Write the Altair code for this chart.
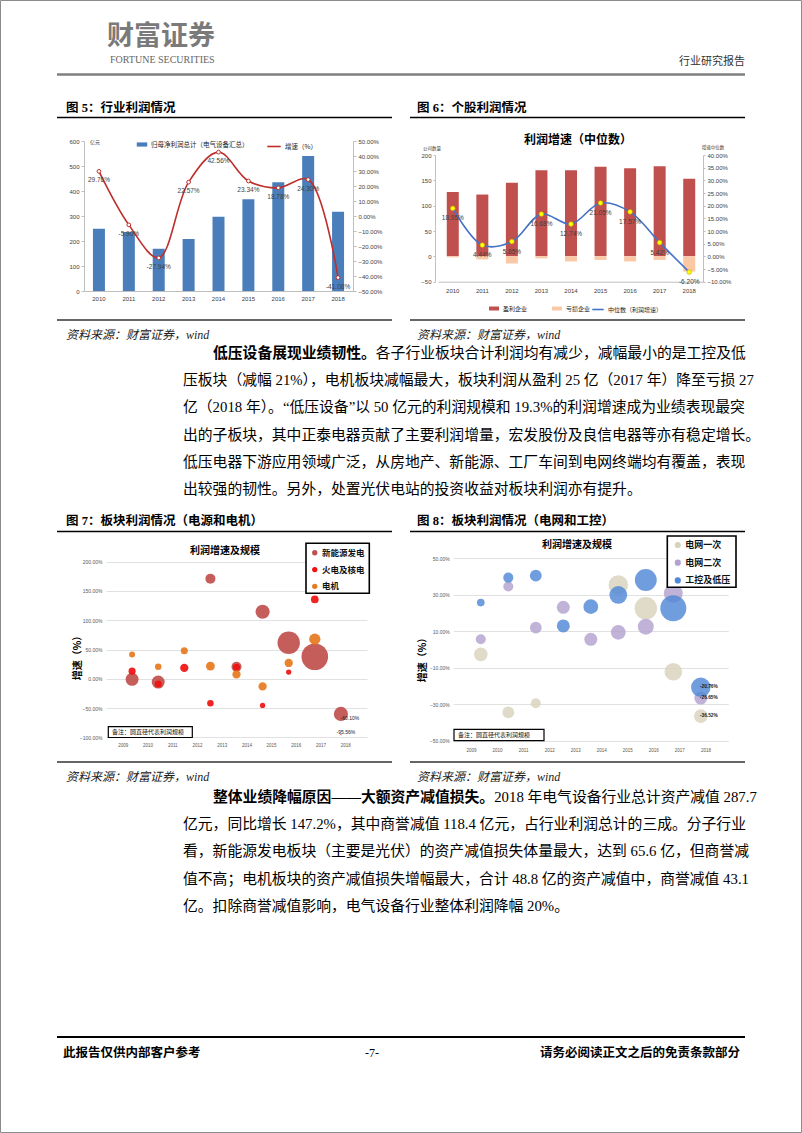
import altair as alt
import pandas as pd

W, H = 802, 1133
CJK = "Noto Sans CJK SC"
SERIF = "Liberation Serif, Noto Sans CJK SC"
SANS = "Liberation Sans, Noto Sans CJK SC"

# ---------------- data ----------------
years = ["2010", "2011", "2012", "2013", "2014", "2015", "2016", "2017", "2018"]

# Fig 5: industry profit
profit_total = [249, 236, 169, 208, 297, 367, 435, 540, 317]
profit_growth = [29.76, -5.90, -27.94, 22.57, 42.56, 23.34, 18.78, 24.30, -41.08]

# Fig 6: company counts and median growth
profitable_cnt = [127, 122, 145, 170, 170, 177, 174, 178, 153]
loss_cnt = [-2, -6, -14, -4, -10, -7, -10, -7, -30]
median_growth = [18.95, 4.44, 5.85, 16.68, 12.74, 21.05, 17.57, 5.42, -6.20]

# Fig 7: bubbles (power source & motor)
s7_names = ["新能源发电", "火电及核电", "电机"]
s7_new_year = [2010, 2011, 2013, 2014, 2015, 2016, 2017, 2018]
s7_new_growth = [-1.0, -5.7, 171.0, 20.5, 114.5, 61.5, 37.6, -60.10]
s7_new_size = [484, 484, 289, 289, 576, 1444, 2025, 576]
s7_th_year = [2010, 2011, 2012, 2013, 2014, 2015, 2016, 2017, 2018]
s7_th_growth = [13.0, -9.0, 18.5, -42.0, 19.5, -45.5, 11.4, 135.5, -95.56]
s7_th_size = [144, 144, 196, 121, 144, 81, 81, 169, 4]
s7_mo_year = [2010, 2011, 2012, 2013, 2014, 2015, 2016, 2017]
s7_mo_growth = [41.5, 20.5, 48.0, 21.6, 7.4, -13.0, 27.0, 67.7]
s7_mo_size = [100, 121, 144, 225, 196, 196, 196, 361]

# Fig 8: bubbles (grid & control)
s8_names = ["电网一次", "电网二次", "工控及低压"]
s8_p1_year = [2010, 2011, 2012, 2015, 2016, 2017, 2018]
s8_p1_growth = [-2.65, -34.5, -29.5, 35.4, 22.6, -12.2, -36.52]
s8_p1_size = [529, 400, 289, 1089, 1444, 900, 529]
s8_p2_year = [2010, 2011, 2012, 2013, 2014, 2015, 2016, 2017, 2018]
s8_p2_growth = [5.6, 34.5, 12.0, 23.1, 5.6, 9.4, 12.5, 30.8, -26.65]
s8_p2_size = [289, 289, 400, 484, 484, 625, 729, 1024, 484]
s8_ic_year = [2010, 2011, 2012, 2013, 2014, 2015, 2016, 2017, 2018]
s8_ic_growth = [25.7, 39.4, 40.5, 12.9, 23.5, 29.9, 38.1, 22.6, -20.76]
s8_ic_size = [169, 289, 400, 484, 625, 900, 1369, 1936, 1089]

bubble_axis_years = [2009, 2010, 2011, 2012, 2013, 2014, 2015, 2016, 2017, 2018]

para1_head = "低压设备展现业绩韧性。"
para1_lines = [
    "各子行业板块合计利润均有减少，减幅最小的是工控及低",
    "压板块（减幅 21%），电机板块减幅最大，板块利润从盈利 25 亿（2017 年）降至亏损 27",
    "亿（2018 年）。“低压设备”以 50 亿元的利润规模和 19.3%的利润增速成为业绩表现最突",
    "出的子板块，其中正泰电器贡献了主要利润增量，宏发股份及良信电器等亦有稳定增长。",
    "低压电器下游应用领域广泛，从房地产、新能源、工厂车间到电网终端均有覆盖，表现",
    "出较强的韧性。另外，处置光伏电站的投资收益对板块利润亦有提升。",
]
para2_head = "整体业绩降幅原因——大额资产减值损失。"
para2_lines = [
    "2018 年电气设备行业总计资产减值 287.7",
    "亿元，同比增长 147.2%，其中商誉减值 118.4 亿元，占行业利润总计的三成。分子行业",
    "看，新能源发电板块（主要是光伏）的资产减值损失体量最大，达到 65.6 亿，但商誉减",
    "值不高；电机板块的资产减值损失增幅最大，合计 48.8 亿的资产减值中，商誉减值 43.1",
    "亿。扣除商誉减值影响，电气设备行业整体利润降幅 20%。",
]

# ---------------- helpers for page decoration ----------------
ONE = alt.Data(values=[{"k": 1}])


def txt(s, x, y, size=12, weight="normal", align="left", color="#000000",
        font=SERIF, style="normal"):
    return alt.Chart(ONE).mark_text(
        text=s, fontSize=size, fontWeight=weight, align=align, color=color,
        font=font, fontStyle=style, baseline="middle"
    ).encode(x=alt.value(x), y=alt.value(y))


def hline(x1, x2, y, color="#000000", w=1.0):
    return alt.Chart(ONE).mark_rule(color=color, strokeWidth=w).encode(
        x=alt.value(x1), x2=alt.value(x2), y=alt.value(y))


def box(x1, y1, x2, y2, stroke="#000000", w=1.0, fill="#ffffff", fill_opacity=1.0):
    return alt.Chart(ONE).mark_rect(stroke=stroke, strokeWidth=w, fill=fill,
                                    fillOpacity=fill_opacity).encode(
        x=alt.value(x1), x2=alt.value(x2), y=alt.value(y1), y2=alt.value(y2))


def pct_expr():
    return "format(datum.value, '.2f') + '%'"


# ---------------- Fig 5 ----------------
BAR5 = "归母净利润总计（电气设备汇总）"
LINE5 = "增速（%）"
df5 = pd.DataFrame({"year": years, "profit": profit_total, "growth": profit_growth})
df5["label"] = [f"{v:.2f}%" for v in profit_growth]
df5["bar_s"] = BAR5
df5["line_s"] = LINE5

x5 = alt.X("year:O", title=None,
           scale=alt.Scale(range=[84, 353], paddingInner=0, paddingOuter=0),
           axis=alt.Axis(orient="bottom", offset=291 - H, labelAngle=0, labelFontSize=6,
                         ticks=False, labelPadding=4, domainColor="#bfbfbf",
                         labelColor="#404040", labelFont=SANS, grid=False))
y5l = alt.Y("profit:Q", title=None,
            scale=alt.Scale(domain=[0, 600], range=[291, 141], nice=False, zero=False),
            axis=alt.Axis(orient="left", offset=-84, values=[0, 100, 200, 300, 400, 500, 600],
                          labelFontSize=6, tickSize=3, tickColor="#bfbfbf", domainColor="#bfbfbf",
                          labelPadding=2, grid=False, labelColor="#404040", labelFont=SANS))
y5r = alt.Y("growth:Q", title=None,
            scale=alt.Scale(domain=[-50, 50], range=[291, 141], nice=False, zero=False),
            axis=alt.Axis(orient="right", offset=353 - W, values=list(range(-50, 51, 10)),
                          labelExpr=pct_expr(), labelFontSize=6, tickSize=3, tickColor="#bfbfbf",
                          domainColor="#bfbfbf", labelPadding=2, grid=False,
                          labelColor="#404040", labelFont=SANS))

bars5 = alt.Chart(df5).mark_bar(size=12).encode(
    x=x5, y=y5l,
    color=alt.Color("bar_s:N", scale=alt.Scale(domain=[BAR5], range=["#4A7EBB"]),
                    legend=alt.Legend(orient="none", legendX=136, legendY=138.5, title=None,
                                      symbolType="M-1,-0.4H1V0.4H-1Z", symbolSize=110,
                                      labelFontSize=6.5, labelFont=CJK, labelColor="#222222",
                                      labelOffset=3, padding=0)))
line5 = alt.Chart(df5).mark_line(interpolate="catmull-rom", strokeWidth=1.6).encode(
    x=x5, y=y5r,
    stroke=alt.Stroke("line_s:N", scale=alt.Scale(domain=[LINE5], range=["#BE2E2B"]),
                      legend=alt.Legend(orient="none", legendX=266, legendY=138.5, title=None,
                                        symbolType="stroke", symbolSize=180, symbolStrokeWidth=1.6,
                                        labelFontSize=6.5, labelFont=CJK, labelColor="#222222",
                                        labelOffset=3, padding=0)))
pts5 = alt.Chart(df5).mark_point(shape="circle", filled=True, fill="white", stroke="#BE2E2B",
                                 strokeWidth=1, size=14, opacity=1).encode(x=x5, y=y5r)
lbl5 = alt.Chart(df5).mark_text(dy=9, fontSize=6.5, color="#404040", font=SANS).encode(
    x=x5, y=y5r, text="label:N")
fig5 = alt.layer(bars5, alt.layer(line5, pts5, lbl5)).resolve_scale(y="independent")

# ---------------- Fig 6 ----------------
T_GAIN, T_LOSS = "盈利企业", "亏损企业"
LINE6 = "中位数（利润增速）"
df6b = pd.DataFrame({
    "year": years + years,
    "type": [T_GAIN] * len(years) + [T_LOSS] * len(years),
    "count": profitable_cnt + loss_cnt,
})
df6l = pd.DataFrame({"year": years, "median": median_growth,
                     "label": [f"{v:.2f}%" for v in median_growth], "line_s": LINE6})

x6 = alt.X("year:O", title=None,
           scale=alt.Scale(range=[438, 704], paddingInner=0, paddingOuter=0),
           axis=alt.Axis(orient="bottom", offset=281.7 - H, labelAngle=0, labelFontSize=6,
                         ticks=False, labelPadding=6, domainColor="#bfbfbf",
                         labelColor="#404040", labelFont=SANS, grid=False))
y6l = alt.Y("count:Q", title=None, stack=None,
            scale=alt.Scale(domain=[-50, 200], range=[281.7, 155], nice=False, zero=False),
            axis=alt.Axis(orient="left", offset=-435, values=[-50, 0, 50, 100, 150, 200],
                          labelFontSize=6, tickSize=2, tickColor="#bfbfbf", domainColor="#bfbfbf",
                          labelPadding=2, grid=False, labelColor="#404040", labelFont=SANS))
y6r = alt.Y("median:Q", title=None,
            scale=alt.Scale(domain=[-10, 40], range=[281.7, 155], nice=False, zero=False),
            axis=alt.Axis(orient="right", offset=703 - W, values=list(range(-10, 41, 5)),
                          labelExpr=pct_expr(), labelFontSize=6, tickSize=2, tickColor="#bfbfbf",
                          domainColor="#bfbfbf", labelPadding=2, grid=False,
                          labelColor="#404040", labelFont=SANS))
bars6 = alt.Chart(df6b).mark_bar(size=12).encode(
    x=x6, y=y6l,
    color=alt.Color("type:N", scale=alt.Scale(domain=[T_GAIN, T_LOSS], range=["#C0504D", "#FAC8A5"]),
                    legend=alt.Legend(orient="none", direction="horizontal", legendX=488, legendY=302.5,
                                      title=None, symbolType="M-1,-0.4H1V0.4H-1Z", symbolSize=100,
                                      labelFontSize=6, labelFont=CJK, labelColor="#222222",
                                      labelOffset=3, columnPadding=23, padding=0)))
line6 = alt.Chart(df6l).mark_line(interpolate="catmull-rom", strokeWidth=1.6).encode(
    x=x6, y=y6r,
    stroke=alt.Stroke("line_s:N", scale=alt.Scale(domain=[LINE6], range=["#4472C4"]),
                      legend=alt.Legend(orient="none", legendX=591, legendY=302.5, title=None,
                                        symbolType="stroke", symbolSize=130, symbolStrokeWidth=1.6,
                                        labelFontSize=6, labelFont=CJK, labelColor="#222222",
                                        labelOffset=3, padding=0)))
pts6 = alt.Chart(df6l).mark_point(shape="circle", filled=True, fill="#FFFF00", stroke="#C8A800",
                                  strokeWidth=0.6, size=22, opacity=1).encode(x=x6, y=y6r)
lbl6 = alt.Chart(df6l).mark_text(dy=10, fontSize=6.5, color="#404040", font=SANS).encode(
    x=x6, y=y6r, text="label:N")
fig6 = alt.layer(bars6, alt.layer(line6, pts6, lbl6)).resolve_scale(y="independent")


# ---------------- bubble helpers ----------------
def bubble_df(names, yrs, grs, szs):
    rows = []
    for n, ys, gs, ss in zip(names, yrs, grs, szs):
        for y_, g_, s_ in zip(ys, gs, ss):
            rows.append({"series": n, "year": y_, "growth": g_, "scale": s_})
    return pd.DataFrame(rows)


def bubble_chart(df, names, colors, opacity, xr, yd, yr, yvals, axis_x, title_x, title_y,
                 leg_x, leg_y, row_pad, sym_size, leg_font):
    xs = alt.X("year:Q", axis=None,
               scale=alt.Scale(domain=[2009, 2019], range=xr, nice=False, zero=False))
    ys = alt.Y("growth:Q", title="增速（%）",
               scale=alt.Scale(domain=yd, range=yr, nice=False, zero=False),
               axis=alt.Axis(orient="left", offset=-axis_x, values=yvals, labelExpr=pct_expr(),
                             labelFontSize=5, labelFont=SANS, labelColor="#595959",
                             domain=False, ticks=False, labelPadding=4, grid=True,
                             gridColor="#d9d9d9", gridWidth=0.8,
                             titleFont=CJK, titleFontSize=10, titleFontWeight="bold",
                             titleColor="#000000", titleX=title_x - axis_x, titleY=title_y,
                             titleAngle=270, titleAlign="center", titleBaseline="middle"))
    return alt.Chart(df).mark_circle(opacity=opacity).encode(
        x=xs, y=ys,
        size=alt.Size("scale:Q", scale=alt.Scale(domain=[0, 2025], range=[0, 707]), legend=None),
        color=alt.Color("series:N", scale=alt.Scale(domain=names, range=colors),
                        legend=alt.Legend(orient="none", legendX=leg_x, legendY=leg_y, title=None,
                                          symbolType="circle", symbolSize=sym_size,
                                          symbolOpacity=1, labelFontSize=leg_font, labelFont=CJK,
                                          labelFontWeight="bold", labelColor="#111111",
                                          labelOffset=3, rowPadding=row_pad, padding=0)),
    ), xs, ys


# ---------------- Fig 7 ----------------
df7 = bubble_df(s7_names, [s7_new_year, s7_th_year, s7_mo_year],
                [s7_new_growth, s7_th_growth, s7_mo_growth],
                [s7_new_size, s7_th_size, s7_mo_size])
bub7, xs7, ys7 = bubble_chart(df7, s7_names, ["#C0504D", "#F01010", "#E67A1E"], 0.92,
                              [106, 367], [-100, 200], [737.3, 561.7],
                              [-100, -50, 0, 50, 100, 150, 200], 106, 77, 655,
                              310.5, 548.5, 7.8, 28, 8.5)
lab7a = alt.Chart(pd.DataFrame({"year": [2018], "growth": [-60.10], "label": ["-60.10%"]})).mark_text(
    dx=9, dy=4, fontSize=5, color="#222222", font=SANS).encode(x=xs7, y=ys7, text="label:N")
lab7b = alt.Chart(pd.DataFrame({"year": [2018], "growth": [-95.56], "label": ["-95.56%"]})).mark_text(
    dx=5, dy=-3, fontSize=5, color="#222222", font=SANS).encode(x=xs7, y=ys7, text="label:N")
yr7 = alt.Chart(pd.DataFrame({"yr": bubble_axis_years})).mark_text(
    fontSize=4.5, color="#595959", font=SANS).encode(
    x=alt.X("yr:Q", axis=None,
            scale=alt.Scale(domain=[2008.3, 2018.86], range=[106, 367], nice=False, zero=False)),
    y=alt.value(746), text=alt.Text("yr:Q", format="d"))
fig7 = alt.layer(alt.layer(bub7, lab7a, lab7b), yr7).resolve_scale(x="independent")

# ---------------- Fig 8 ----------------
df8 = bubble_df(s8_names, [s8_p1_year, s8_p2_year, s8_ic_year],
                [s8_p1_growth, s8_p2_growth, s8_ic_growth],
                [s8_p1_size, s8_p2_size, s8_ic_size])
bub8, xs8, ys8 = bubble_chart(df8, s8_names, ["#D8D3BC", "#B3A2CF", "#4F88D6"], 0.82,
                              [453.3, 728.3], [-50, 50], [740.7, 558.3],
                              [-50, -30, -10, 10, 30, 50], 453.3, 422, 657,
                              673.3, 540.5, 7.7, 38, 9)
df8lab = pd.DataFrame({"year": [2018, 2018, 2018], "growth": [-20.76, -26.65, -36.52],
                       "label": ["-20.76%", "-26.65%", "-36.52%"]})
lab8 = alt.Chart(df8lab).mark_text(dx=8, fontSize=4.8, fontWeight="bold", color="#1a1a1a",
                                   font=SANS).encode(x=xs8, y=ys8, text="label:N")
yr8 = alt.Chart(pd.DataFrame({"yr": bubble_axis_years})).mark_text(
    fontSize=4.5, color="#595959", font=SANS).encode(
    x=alt.X("yr:Q", axis=None,
            scale=alt.Scale(domain=[2008.3, 2018.86], range=[453.3, 728.3], nice=False, zero=False)),
    y=alt.value(751), text=alt.Text("yr:Q", format="d"))
fig8 = alt.layer(alt.layer(bub8, lab8), yr8).resolve_scale(x="independent")

# ---------------- page decoration ----------------
deco = [
    box(0.5, 0.5, 801.5, 1132.5, stroke="#8c8c8c", w=1, fill="#ffffff", fill_opacity=0),
    txt("财富证券", 107, 37, size=27, weight="bold", color="#7a7a7a", font=CJK),
    txt("FORTUNE SECURITIES", 110, 60, size=10, color="#666666", font="Liberation Serif"),
    txt("行业研究报告", 745, 62, size=11, align="right", color="#333333", font=CJK),
    hline(57, 745, 74.5, "#7f7f7f", 2.5),
    txt("图 5：行业利润情况", 66, 108, size=12.5, weight="bold"),
    txt("图 6：个股利润情况", 417, 108, size=12.5, weight="bold"),
    hline(57, 392, 117.5, "#000000", 1.5),
    hline(410, 745, 117.5, "#000000", 1.5),
    hline(57, 392, 320, "#333333", 1.3),
    hline(410, 745, 320, "#333333", 1.3),
    txt("资料来源：财富证券，wind", 66, 335, size=12, style="italic", color="#222222"),
    txt("资料来源：财富证券，wind", 417, 335, size=12, style="italic", color="#222222"),
    txt("图 7：板块利润情况（电源和电机）", 66, 521, size=12.5, weight="bold"),
    txt("图 8：板块利润情况（电网和工控）", 417, 521, size=12.5, weight="bold"),
    hline(57, 392, 531.5, "#000000", 1.5),
    hline(410, 745, 531.5, "#000000", 1.5),
    hline(57, 392, 762, "#333333", 1.3),
    hline(410, 745, 762, "#333333", 1.3),
    txt("资料来源：财富证券，wind", 66, 777, size=12, style="italic", color="#222222"),
    txt("资料来源：财富证券，wind", 417, 777, size=12, style="italic", color="#222222"),
    hline(57, 745, 1037, "#000000", 2),
    txt("此报告仅供内部客户参考", 63, 1053, size=12.5, weight="bold"),
    txt("-7-", 372, 1053, size=12, align="center", font="Liberation Serif"),
    txt("请务必阅读正文之后的免责条款部分", 740, 1053, size=12.5, weight="bold", align="right"),
    # chart inner titles / small labels
    txt("亿元", 90, 142, size=5, font=CJK, color="#404040"),
    txt("利润增速（中位数）", 578, 140, size=12, weight="bold", align="center", font=CJK),
    txt("公司数量", 432, 149, size=4.5, align="center", font=CJK, color="#404040"),
    txt("增速中位数", 713, 148, size=4.5, align="center", font=CJK, color="#404040"),
    txt("利润增速及规模", 225, 551, size=10, weight="bold", align="center", font=CJK),
    txt("利润增速及规模", 577, 545, size=10, weight="bold", align="center", font=CJK),
]

# paragraphs
P_SIZE = 14.8
P1_Y0, P2_Y0, P_STEP = 354, 798, 27.2
X_IND, X_BODY = 213, 183
deco.append(txt(para1_head, X_IND, P1_Y0, size=P_SIZE, weight="bold"))
deco.append(txt(para1_lines[0], X_IND + len(para1_head) * P_SIZE, P1_Y0, size=P_SIZE))
for i, line in enumerate(para1_lines[1:], start=1):
    deco.append(txt(line, X_BODY, P1_Y0 + i * P_STEP, size=P_SIZE))
deco.append(txt(para2_head, X_IND, P2_Y0, size=P_SIZE, weight="bold"))
deco.append(txt(para2_lines[0], X_IND + len(para2_head) * P_SIZE, P2_Y0, size=P_SIZE))
for i, line in enumerate(para2_lines[1:], start=1):
    deco.append(txt(line, X_BODY, P2_Y0 + i * P_STEP, size=P_SIZE))

# boxes drawn over the bubble charts
overlay = [
    box(306, 543.3, 369.3, 593.3, stroke="#000000", w=1.6),
    box(667.3, 536, 736, 587.3, stroke="#000000", w=1.6),
    box(108.3, 726.7, 192.3, 737.5, stroke="#000000", w=1.2),
    txt("备注：圆直径代表利润规模", 112, 732.2, size=6, font=CJK, color="#111111"),
    box(454, 729.3, 544, 740.7, stroke="#000000", w=1.2),
    txt("备注：圆直径代表利润规模", 458, 735, size=6, font=CJK, color="#111111"),
]

chart = alt.layer(*deco, fig5, fig6, fig7, fig8, *overlay).resolve_scale(
    x="independent", y="independent", color="independent", size="independent",
    stroke="independent"
).properties(
    width=W, height=H, padding=0,
    autosize=alt.AutoSizeParams(type="none"),
    background="white",
).configure_view(stroke=None)

chart.save("out.html", embed_options={"renderer": "svg", "actions": False})
